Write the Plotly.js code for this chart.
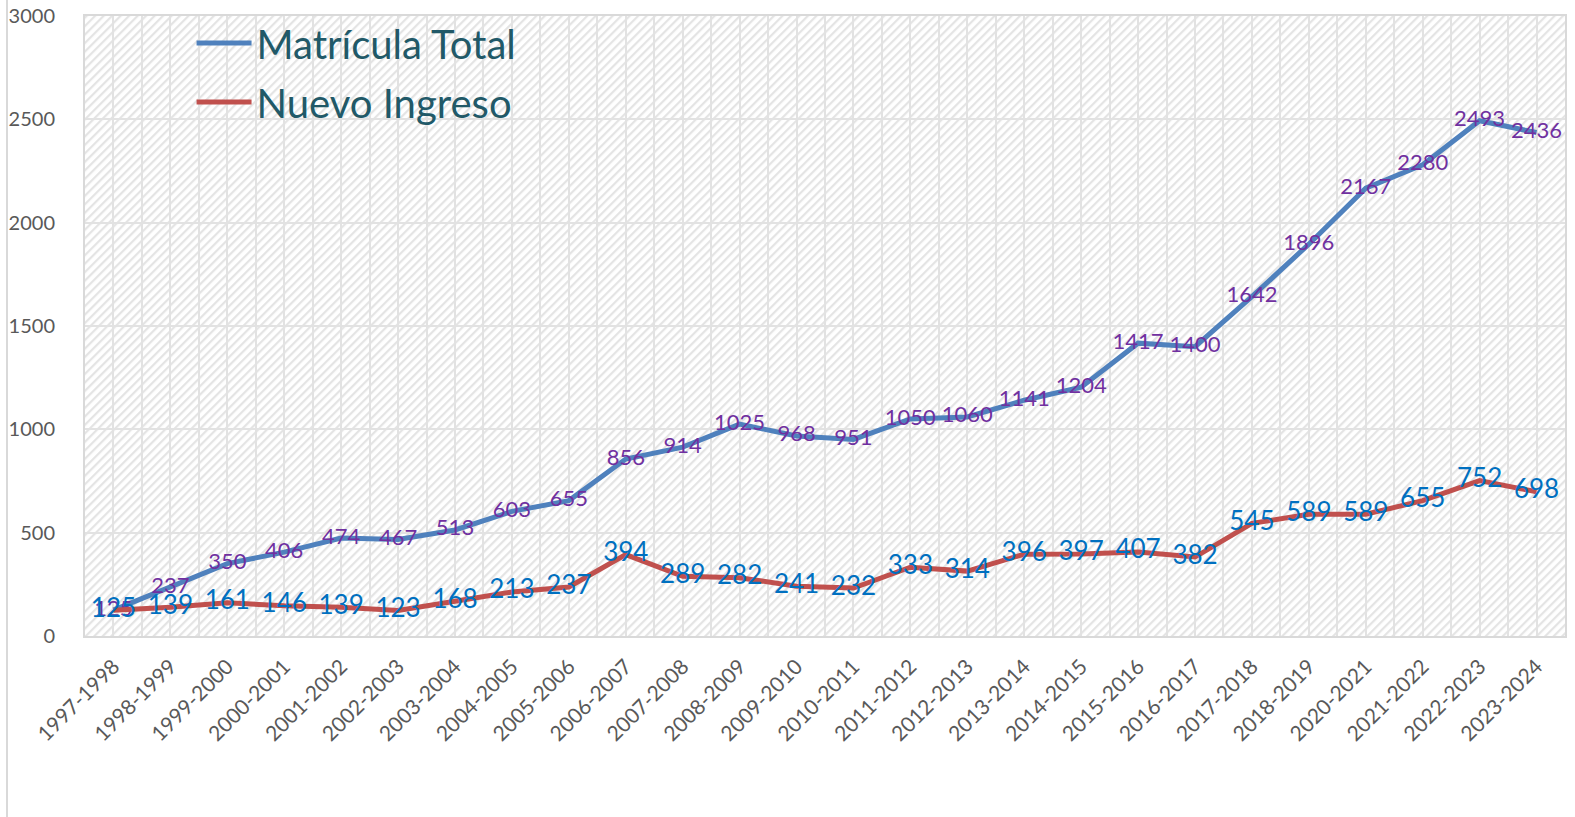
<!DOCTYPE html>
<html>
<head>
<meta charset="utf-8">
<script src="https://cdn.plot.ly/plotly-3.0.1.min.js"></script>
<style>
html,body{margin:0;padding:0;background:#fff;}
#chart{width:1575px;height:817px;}
</style>
</head>
<body>
<div id="chart"></div>
<script>
const categories = ["1997-1998","1998-1999","1999-2000","2000-2001","2001-2002","2002-2003","2003-2004","2004-2005","2005-2006","2006-2007","2007-2008","2008-2009","2009-2010","2010-2011","2011-2012","2012-2013","2013-2014","2014-2015","2015-2016","2016-2017","2017-2018","2018-2019","2020-2021","2021-2022","2022-2023","2023-2024"];
const matriculaTotal = [125,237,350,406,474,467,513,603,655,856,914,1025,968,951,1050,1060,1141,1204,1417,1400,1642,1896,2167,2280,2493,2436];
const nuevoIngreso = [125,139,161,146,139,123,168,213,237,394,289,282,241,232,333,314,396,397,407,382,545,589,589,655,752,698];
const yTicks = [0,500,1000,1500,2000,2500,3000];

const idx = categories.map((c,i)=>i);
const FONT = "Lato, 'Open Sans', sans-serif";

const W = 1575, H = 817;
const M = {l:85, r:10, t:16, b:181};
const PW = W - M.l - M.r, PH = H - M.t - M.b;

const svg = `<svg xmlns="http://www.w3.org/2000/svg" width="${PW}" height="${PH}" viewBox="0 0 ${PW} ${PH}">
<defs><pattern id="p" width="6" height="6" patternUnits="userSpaceOnUse" patternTransform="rotate(45)">
<rect width="6" height="6" fill="#ffffff"/><rect x="0" y="0" width="2.2" height="6" fill="#e4e4e4"/></pattern></defs>
<rect width="${PW}" height="${PH}" fill="url(#p)"/></svg>`;
const bgSrc = "data:image/svg+xml;charset=utf-8," + encodeURIComponent(svg);

const traces = [
  {
    x: idx, y: matriculaTotal, name: "Matrícula Total", type: "scatter",
    mode: "lines+text", text: matriculaTotal.map(String), textposition: "middle center",
    textfont: {family: FONT, size: 22, color: "#7030A0"},
    line: {color: "#4F81BD", width: 5}, legendgroup: "a", cliponaxis: false, hoverinfo: "x+y"
  },
  {
    x: idx, y: nuevoIngreso, name: "Nuevo Ingreso", type: "scatter",
    mode: "lines+text", text: nuevoIngreso.map(String), textposition: "middle center",
    textfont: {family: FONT, size: 26, color: "#0070C0"},
    line: {color: "#C0504D", width: 5}, legendgroup: "b", cliponaxis: false, hoverinfo: "x+y"
  }
];

const layout = {
  width: W, height: H,
  margin: M,
  paper_bgcolor: "#ffffff",
  plot_bgcolor: "rgba(0,0,0,0)",
  font: {family: FONT, color: "#595959", size: 20},
  showlegend: true,
  legend: {
    x: 0.072, y: 1.009, xanchor: "left", yanchor: "top",
    bgcolor: "rgba(0,0,0,0)", borderwidth: 0,
    font: {family: FONT, size: 40, color: "#215968"},
    itemwidth: 55, tracegroupgap: 4, traceorder: "grouped"
  },
  xaxis: {
    range: [-0.5, categories.length - 0.5],
    tickmode: "array", tickvals: idx, ticktext: categories,
    tickangle: -45, ticks: "", ticklabelstandoff: 8,
    tickfont: {family: FONT, size: 21, color: "#595959"},
    showgrid: true, gridcolor: "#e2e2e2", gridwidth: 2,
    minor: {tick0: -0.5, dtick: 1, showgrid: true, gridcolor: "#e2e2e2", gridwidth: 2, ticks: ""},
    showline: true, linecolor: "#d9d9d9", linewidth: 2, mirror: true,
    zeroline: false, fixedrange: true
  },
  yaxis: {
    range: [0, 3000],
    tickmode: "array", tickvals: yTicks, ticktext: yTicks.map(String),
    ticks: "", ticklabelstandoff: 24,
    tickfont: {family: FONT, size: 20, color: "#595959"},
    showgrid: true, gridcolor: "#e2e2e2", gridwidth: 2,
    showline: true, linecolor: "#d9d9d9", linewidth: 2, mirror: true,
    zeroline: false, fixedrange: true
  },
  images: [{
    source: bgSrc, xref: "paper", yref: "paper", x: 0, y: 1, sizex: 1, sizey: 1,
    xanchor: "left", yanchor: "top", sizing: "stretch", layer: "below"
  }],
  shapes: [{
    type: "line", xref: "paper", yref: "paper",
    x0: (7 - M.l) / PW, x1: (7 - M.l) / PW, y0: -M.b / PH, y1: 1 + M.t / PH,
    line: {color: "#d9d9d9", width: 2}
  }]
};

Plotly.newPlot("chart", traces, layout, {displayModeBar: false, staticPlot: false});
</script>
</body>
</html>
